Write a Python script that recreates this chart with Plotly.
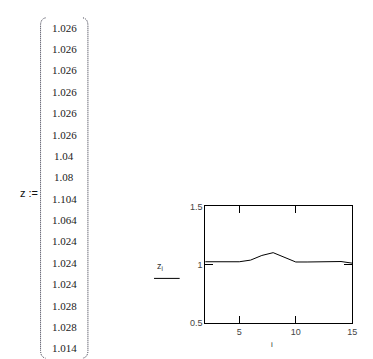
import plotly.graph_objects as go

z_values = [1.026, 1.026, 1.026, 1.026, 1.026, 1.026, 1.04, 1.08, 1.104,
            1.064, 1.024, 1.024, 1.024, 1.028, 1.028, 1.014]
z_labels = ["1.026", "1.026", "1.026", "1.026", "1.026", "1.026", "1.04", "1.08",
            "1.104", "1.064", "1.024", "1.024", "1.024", "1.028", "1.028", "1.014"]
i_values = list(range(len(z_values)))
x_ticks = [5, 10, 15]
y_ticks = [0.5, 1, 1.5]
y_tick_labels = ["0.5", "1", "1.5"]

W, H = 373, 359
def px(x):
    return x / W
def py(y):
    return 1 - y / H

fig = go.Figure()
fig.add_trace(go.Scatter(x=i_values, y=z_values, mode="lines",
                         line=dict(color="black", width=1), showlegend=False,
                         hoverinfo="skip"))

axis_font = dict(family="Liberation Sans, Arial", size=9, color="#444")
fig.update_layout(
    width=W, height=H, margin=dict(l=0, r=0, t=0, b=0),
    paper_bgcolor="white", plot_bgcolor="white",
    xaxis=dict(domain=[px(200), px(349)], range=[2, 15], tickvals=x_ticks,
               ticktext=[str(v) for v in x_ticks],
               ticks="inside", ticklen=7, tickcolor="black", tickwidth=1,
               showline=True, linecolor="black", linewidth=1, mirror="ticks",
               showgrid=False, zeroline=False, tickfont=axis_font),
    yaxis=dict(domain=[py(319), py(199)], range=[0.5, 1.5], tickvals=y_ticks,
               ticktext=y_tick_labels,
               ticks="inside", ticklen=8, tickcolor="black", tickwidth=1,
               showline=True, linecolor="black", linewidth=1, mirror="ticks",
               showgrid=False, zeroline=False, tickfont=axis_font),
)

annotations = []
# matrix entries
for k, lab in enumerate(z_labels):
    annotations.append(dict(x=px(57), y=py(15 + 22 * k), xref="paper", yref="paper",
                            text=lab, showarrow=False, xanchor="center", yanchor="middle",
                            font=dict(family="Liberation Serif, Times New Roman", size=11,
                                      color="#222")))
annotations.append(dict(x=px(10), y=py(185), xref="paper", yref="paper", text="z :=",
                        showarrow=False, xanchor="left", yanchor="middle",
                        font=dict(family="Liberation Sans, Arial", size=11, color="#111")))
annotations.append(dict(x=px(149), y=py(261), xref="paper", yref="paper",
                        text="z<sub>i</sub>", showarrow=False, xanchor="left",
                        yanchor="middle",
                        font=dict(family="Liberation Sans, Arial", size=9, color="#333")))
annotations.append(dict(x=px(268), y=py(341), xref="paper", yref="paper", text="i",
                        showarrow=False, xanchor="center", yanchor="middle",
                        font=dict(family="Liberation Sans, Arial", size=8, color="#333")))
fig.update_layout(annotations=annotations)

shapes = []
# legend line
shapes.append(dict(type="line", xref="paper", yref="paper",
                   x0=px(148), x1=px(174), y0=py(273), y1=py(273),
                   line=dict(color="black", width=1)))
# brackets
def P(x, y):
    return f"{px(x):.5f},{py(y):.5f}"
left = f"M {P(38,5)} Q {P(33,6)} {P(33,13)} L {P(33,347)} Q {P(33,354)} {P(38,355)}"
right = f"M {P(76,5)} Q {P(81,6)} {P(81,13)} L {P(81,347)} Q {P(81,354)} {P(76,355)}"
for p in (left, right):
    shapes.append(dict(type="path", xref="paper", yref="paper", path=p,
                       line=dict(color="#334", width=1, dash="1px,1px")))
fig.update_layout(shapes=shapes)

fig.write_html("out.html")
